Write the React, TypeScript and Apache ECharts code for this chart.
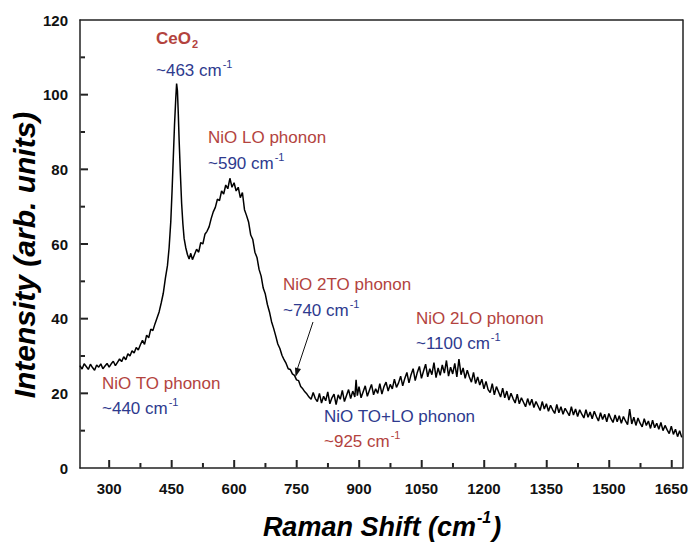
import React, { useEffect, useRef } from "react";
import * as echarts from "echarts";

// Raman spectrum (Raman shift in cm^-1, intensity in arb. units)
const lowShiftBaseline: [number, number][] = [
  [230, 27.4], [235, 26.5], [240, 27.9], [245, 27.2], [250, 26.4], [255, 27.8], [260, 26.9], [265, 26.2],
  [270, 27.6], [275, 27.0], [280, 27.9], [285, 26.6], [290, 27.3], [295, 28.0], [300, 27.0], [305, 27.9],
  [310, 28.6], [315, 27.4], [320, 28.3], [325, 29.2], [330, 28.5], [335, 29.8], [340, 29.0], [345, 30.6],
  [350, 30.0], [355, 31.4], [360, 30.8], [365, 32.3], [370, 31.6], [375, 33.0], [380, 34.2], [385, 33.1],
  [390, 35.6], [395, 34.9], [400, 37.2], [405, 36.8], [410, 38.6], [415, 40.2], [420, 41.8], [425, 44.2],
  [430, 46.8], [435, 50.8], [440, 54.2],
];

const ceo2Peak: [number, number][] = [
  [444, 59], [448, 66], [451, 74], [454, 83], [457, 92], [460, 99], [462, 103], [464, 101], [466, 95],
  [468, 88], [471, 79], [474, 71], [477, 65.5], [480, 61.5], [484, 59.0], [488, 57.2], [492, 56.0],
  [496, 57.5], [500, 55.8],
];

const nioLoBand: [number, number][] = [
  [505, 57.2], [510, 58.6], [515, 57.8], [520, 60.4], [525, 60.0], [530, 62.6], [535, 63.4], [540, 64.6],
  [545, 66.8], [550, 68.6], [555, 69.8], [560, 72.0], [565, 71.6], [570, 74.2], [575, 73.4], [580, 75.8],
  [585, 74.8], [590, 77.6], [595, 75.2], [600, 76.4], [605, 74.2], [610, 75.2], [615, 72.4], [620, 73.8],
  [625, 69.2], [630, 67.6], [635, 65.8], [640, 62.4], [645, 61.2], [650, 57.8], [655, 56.4], [660, 53.2],
  [665, 51.4], [670, 48.2], [675, 46.6], [680, 43.8], [685, 41.8], [690, 39.2], [695, 37.4], [700, 35.4],
  [705, 33.2], [710, 32.0], [715, 30.2], [720, 29.0], [725, 28.0], [730, 26.6], [735, 26.4], [740, 25.2],
  [745, 24.8], [750, 23.6], [755, 23.4], [760, 21.8], [765, 21.2], [770, 20.4], [775, 19.8], [780, 19.0],
];

const twoPhononBand: [number, number][] = [
  [785, 18.4], [790, 20.2], [795, 18.6], [800, 17.8], [805, 20.0], [810, 17.4], [815, 19.2], [820, 18.0],
  [825, 20.4], [830, 17.2], [835, 18.8], [840, 19.8], [845, 17.0], [850, 19.6], [855, 18.4], [860, 20.8],
  [865, 17.8], [870, 19.4], [875, 21.0], [880, 18.6], [885, 20.6], [890, 19.0], [893, 23.6], [896, 19.4],
  [900, 21.8], [905, 18.8], [910, 20.4], [915, 22.0], [920, 19.2], [925, 20.8], [930, 22.4], [935, 19.6],
  [940, 21.2], [945, 20.0], [950, 22.6], [955, 19.8], [960, 21.8], [965, 23.0], [970, 20.6], [975, 22.4],
  [980, 21.2], [985, 23.8], [990, 21.6], [995, 22.8], [1000, 24.6], [1005, 22.0], [1010, 24.0], [1015, 25.6],
  [1020, 22.8], [1025, 25.0], [1030, 26.6], [1035, 23.4], [1040, 25.6], [1045, 27.2], [1050, 24.0], [1055, 26.0],
  [1060, 27.8], [1065, 24.4], [1070, 26.6], [1075, 25.0], [1080, 28.2], [1085, 24.2], [1090, 26.8], [1095, 24.8],
  [1100, 27.6], [1105, 25.4], [1110, 28.8], [1115, 24.6], [1120, 27.0], [1125, 25.2], [1130, 28.0], [1135, 24.4],
  [1140, 29.2], [1145, 25.0], [1150, 26.8], [1155, 24.0], [1160, 26.2], [1165, 24.4], [1170, 23.0], [1175, 25.6],
  [1180, 22.6], [1185, 24.4], [1190, 22.2], [1195, 23.8], [1200, 21.2],
];

const highShiftTail: [number, number][] = [
  [1205, 23.2], [1210, 21.0], [1215, 20.2], [1220, 22.6], [1225, 19.6], [1230, 21.8], [1235, 20.4], [1240, 19.0],
  [1245, 21.4], [1250, 18.8], [1255, 20.6], [1260, 18.2], [1265, 20.0], [1270, 18.6], [1275, 17.4], [1280, 19.8],
  [1285, 17.2], [1290, 18.8], [1295, 17.6], [1300, 16.4], [1305, 18.6], [1310, 16.8], [1315, 18.4], [1320, 16.2],
  [1325, 17.8], [1330, 16.6], [1335, 15.4], [1340, 17.8], [1345, 15.8], [1350, 17.2], [1355, 15.2], [1360, 16.8],
  [1365, 15.6], [1370, 14.6], [1375, 17.0], [1380, 14.8], [1385, 16.4], [1390, 14.4], [1395, 16.0], [1400, 15.0],
  [1405, 14.0], [1410, 16.4], [1415, 14.2], [1420, 15.8], [1425, 13.8], [1430, 15.6], [1435, 14.4], [1440, 13.4],
  [1445, 15.6], [1450, 13.6], [1455, 15.0], [1460, 13.2], [1465, 15.2], [1470, 13.8], [1475, 12.6], [1480, 14.8],
  [1485, 13.0], [1490, 14.4], [1495, 12.4], [1500, 14.6], [1505, 13.2], [1510, 12.2], [1515, 14.2], [1520, 12.4],
  [1525, 14.0], [1530, 12.0], [1535, 13.8], [1540, 12.6], [1545, 11.6], [1550, 15.8], [1555, 11.8], [1560, 13.6],
  [1565, 11.4], [1570, 13.4], [1575, 12.0], [1580, 11.0], [1585, 13.2], [1590, 11.4], [1595, 12.6], [1600, 10.6],
  [1605, 12.8], [1610, 10.8], [1615, 12.0], [1620, 10.4], [1625, 12.2], [1630, 10.0], [1635, 11.4], [1640, 10.2],
  [1645, 9.2], [1650, 11.2], [1655, 9.0], [1660, 10.4], [1665, 8.4], [1670, 10.0], [1675, 8.2],
];

const xMajorTicks = [300, 450, 600, 750, 900, 1050, 1200, 1350, 1500, 1650];
const xMinorTicks = [375, 525, 675, 825, 975, 1125, 1275, 1425, 1575];
const yMajorTicks = [20, 40, 60, 80, 100];
const yMinorTicks = [10, 30, 50, 70, 90, 110];
const xRange = [230, 1677];
const yRange = [0, 120];
const yInterval = 20;

const RED = "#b3433e";
const BLUE = "#2e3a8e";
const FONT = "'Liberation Sans', Arial, sans-serif";
const AXIS_COLOR = "#222222";
const MAJOR_LEN = 8;
const MINOR_LEN = 5;
const W = 691;
const H = 543;
const GRID = { left: 80, right: 8, top: 20, bottom: 75 };

type Note = { text: string; x: number; y: number; color: string; bold?: boolean };
const notes: Note[] = [
  { text: "CeO{sub|2}", x: 156, y: 38, color: RED, bold: true },
  { text: "~463 cm{sup|-1}", x: 156, y: 70, color: BLUE },
  { text: "NiO LO phonon", x: 208, y: 137, color: RED },
  { text: "~590 cm{sup|-1}", x: 208, y: 163, color: BLUE },
  { text: "NiO 2TO phonon", x: 283, y: 284, color: RED },
  { text: "~740 cm{sup|-1}", x: 283, y: 310, color: BLUE },
  { text: "NiO 2LO phonon", x: 416, y: 318, color: RED },
  { text: "~1100 cm{sup|-1}", x: 416, y: 343, color: BLUE },
  { text: "NiO TO phonon", x: 102, y: 383, color: RED },
  { text: "~440 cm{sup|-1}", x: 102, y: 408, color: BLUE },
  { text: "NiO TO+LO phonon", x: 324, y: 416, color: BLUE },
  { text: "~925 cm{sup|-1}", x: 324, y: 441, color: RED },
];

const plainLabel = (v: number) => String(v);

export default function App() {
  const ref = useRef<HTMLDivElement>(null);

  useEffect(() => {
    if (!ref.current) return;
    const chart = echarts.init(ref.current, null, { renderer: "svg" });
    const data = [...lowShiftBaseline, ...ceo2Peak, ...nioLoBand, ...twoPhononBand, ...highShiftTail];

    const plotW = W - GRID.left - GRID.right;
    const plotH = H - GRID.top - GRID.bottom;
    const xPx = (v: number) => GRID.left + ((v - xRange[0]) / (xRange[1] - xRange[0])) * plotW;
    const yPx = (v: number) => GRID.top + plotH - ((v - yRange[0]) / (yRange[1] - yRange[0])) * plotH;
    const baseY = yPx(yRange[0]);
    const baseX = xPx(xRange[0]);

    // inward tick marks, drawn as one polyline group per axis
    const tickStyle = { stroke: AXIS_COLOR, lineWidth: 2, fill: "none" };
    const tickEls: any[] = [];
    const vTick = (v: number, len: number) =>
      tickEls.push({ type: "polyline", z: 30, shape: { points: [[xPx(v), baseY - 0.5], [xPx(v), baseY - len]] }, style: tickStyle });
    const hTick = (v: number, len: number) =>
      tickEls.push({ type: "polyline", z: 30, shape: { points: [[baseX + 0.5, yPx(v)], [baseX + len, yPx(v)]] }, style: tickStyle });
    xMajorTicks.forEach((v) => vTick(v, MAJOR_LEN));
    xMinorTicks.forEach((v) => vTick(v, MINOR_LEN));
    yMajorTicks.forEach((v) => hTick(v, MAJOR_LEN));
    yMinorTicks.forEach((v) => hTick(v, MINOR_LEN));

    const noteEls = notes.map((n) => ({
      type: "text",
      x: n.x,
      y: n.y,
      z: 10,
      style: {
        text: n.text,
        fill: n.color,
        fontFamily: FONT,
        fontSize: 17,
        fontWeight: n.bold ? "bold" : "normal",
        align: "left",
        verticalAlign: "middle",
        rich: {
          sup: { fontSize: 11, fill: n.color, fontFamily: FONT, verticalAlign: "top", padding: [0, 0, 13, 1] },
          sub: { fontSize: 11, fill: n.color, fontFamily: FONT, fontWeight: "bold", verticalAlign: "bottom", padding: [11, 0, 0, 1] },
        },
      },
    }));

    const lineStyle = { color: AXIS_COLOR, width: 1.5 };
    const lineOnly = {
      axisLine: { show: true, onZero: false, lineStyle },
      axisTick: { show: false },
      axisLabel: { show: false },
      splitLine: { show: false },
    };

    const option: any = {
      animation: false,
      backgroundColor: "#ffffff",
      grid: { ...GRID, containLabel: false },
      xAxis: [
        {
          type: "value",
          min: xRange[0],
          max: xRange[1],
          position: "bottom",
          axisLine: { show: true, onZero: false, lineStyle },
          axisTick: { show: false },
          axisLabel: {
            customValues: xMajorTicks,
            formatter: plainLabel,
            color: "#111",
            fontFamily: FONT,
            fontWeight: "bold",
            fontSize: 15,
            margin: 13,
          },
          splitLine: { show: false },
        },
        { type: "value", min: xRange[0], max: xRange[1], position: "top", ...lineOnly },
      ],
      yAxis: [
        {
          type: "value",
          min: yRange[0],
          max: yRange[1],
          interval: yInterval,
          position: "left",
          axisLine: { show: true, onZero: false, lineStyle },
          axisTick: { show: false },
          axisLabel: { formatter: plainLabel, color: "#111", fontFamily: FONT, fontWeight: "bold", fontSize: 15, margin: 12 },
          splitLine: { show: false },
        },
        { type: "value", min: yRange[0], max: yRange[1], position: "right", ...lineOnly },
      ],
      series: [
        {
          type: "line",
          xAxisIndex: 0,
          yAxisIndex: 0,
          data,
          showSymbol: false,
          symbol: "none",
          lineStyle: { color: "#000000", width: 1.5 },
          z: 3,
        },
      ],
      graphic: [
        ...noteEls,
        ...tickEls,
        {
          type: "line",
          z: 10,
          shape: { x1: 313, y1: 322, x2: 297, y2: 370 },
          style: { stroke: "#111", lineWidth: 1 },
        },
        {
          type: "polygon",
          z: 10,
          shape: { points: [[295.5, 377], [301, 369], [295, 367.5]] },
          style: { fill: "#111" },
        },
        {
          type: "text",
          x: 24,
          y: 255,
          rotation: Math.PI / 2,
          style: {
            text: "Intensity (arb. units)",
            fill: "#000",
            fontFamily: FONT,
            fontSize: 30,
            fontWeight: "bold",
            fontStyle: "italic",
            align: "center",
            verticalAlign: "middle",
          },
        },
        {
          type: "text",
          x: 382,
          y: 527,
          style: {
            text: "Raman Shift (cm{sup|-1})",
            fill: "#000",
            fontFamily: FONT,
            fontSize: 27,
            fontWeight: "bold",
            fontStyle: "italic",
            align: "center",
            verticalAlign: "middle",
            rich: {
              sup: { fontSize: 16, fontFamily: FONT, fontWeight: "bold", fontStyle: "italic", fill: "#000", verticalAlign: "top", padding: [0, 1, 20, 1] },
            },
          },
        },
      ],
    };

    chart.setOption(option);
    return () => chart.dispose();
  }, []);

  return (
    <div
      ref={ref}
      style={{ position: "fixed", left: 0, top: 0, width: W, height: H, background: "#fff" }}
    />
  );
}
